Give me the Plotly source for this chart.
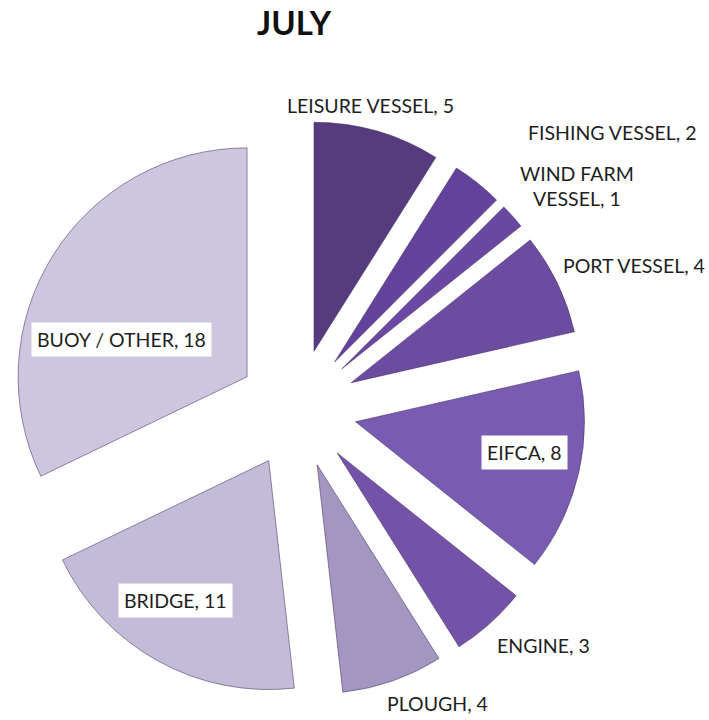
import plotly.graph_objects as go

categories = ["LEISURE VESSEL", "FISHING VESSEL", "WIND FARM VESSEL", "PORT VESSEL",
              "EIFCA", "ENGINE", "PLOUGH", "BRIDGE", "BUOY / OTHER"]
values = [5, 2, 1, 4, 8, 3, 4, 11, 18]
label_text = ["LEISURE VESSEL, 5", "FISHING VESSEL, 2", "WIND FARM<br>VESSEL, 1",
              "PORT VESSEL, 4", "EIFCA, 8", "ENGINE, 3", "PLOUGH, 4",
              "BRIDGE, 11", "BUOY / OTHER, 18"]
colors = ["#563b7f", "#62429a", "#6a48a2", "#6c4ca0", "#7a5bb2", "#7352a8",
          "#a396c0", "#c3bbd7", "#cdc6de"]
# label centers in pixels (text layout), and whether boxed
label_pos = [(370, 106), (612, 132), (577, 186), (634, 265), (524, 452),
             (543, 645), (437, 703), (175, 600), (121, 339)]
boxed = [False, False, False, False, True, False, False, True, True]

W, H = 709, 720
L, R, T, B = 9, 123, 120, 23
pw, ph = W - L - R, H - T - B

fig = go.Figure(go.Pie(
    labels=categories, values=values, sort=False, direction="clockwise",
    rotation=0, pull=[0.26] * len(values), textinfo="none", hoverinfo="label+value",
    marker=dict(colors=colors, line=dict(color="rgba(70,50,100,0.55)", width=1)),
    showlegend=False,
))

def to_paper(px, py):
    return (px - L) / pw, 1 - (py - T) / ph

for txt, (px, py), bx in zip(label_text, label_pos, boxed):
    x, y = to_paper(px, py)
    fig.add_annotation(
        x=x, y=y, xref="paper", yref="paper", text=txt, showarrow=False,
        font=dict(family="Lato", size=19.5, color="#1e1e1e"),
        bgcolor="white" if bx else None, borderpad=5 if bx else 0,
        xanchor="center", yanchor="middle", align="center",
    )

tx, ty = to_paper(294, 22)
fig.add_annotation(x=tx, y=ty, xref="paper", yref="paper", text="<b>JULY</b>",
                   showarrow=False, font=dict(family="Lato", size=33, color="#111111"),
                   xanchor="center", yanchor="middle")

fig.update_layout(width=W, height=H, margin=dict(l=L, r=R, t=T, b=B),
                  paper_bgcolor="white", plot_bgcolor="white")
fig.write_html("out.html")
